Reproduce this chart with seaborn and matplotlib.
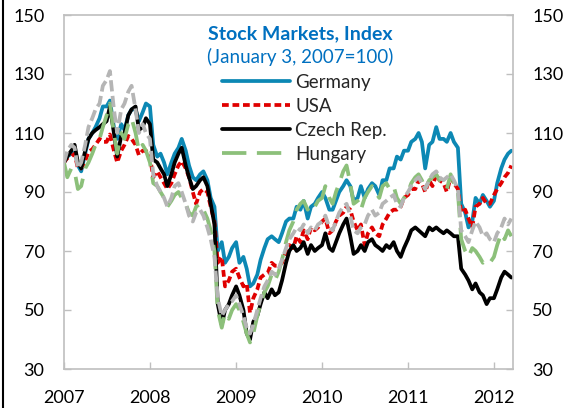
import numpy as np
import pandas as pd
import matplotlib
matplotlib.use("Agg")
import matplotlib.pyplot as plt
from matplotlib.lines import Line2D
import seaborn as sns

# --- data: semi-monthly readings, index Jan 3 2007 = 100 ---
dates = pd.date_range("2007-01-01", "2012-03-15", freq="SMS")

germany = [
    100, 102, 103, 104, 99, 97, 103, 108, 110, 112, 115, 119, 119, 121, 112, 108, 113, 111, 116, 118, 118, 114, 117, 120,
    119, 106, 102, 103, 100, 96, 100, 103, 105, 108, 104, 99, 95, 94, 96, 97, 94, 88, 85, 70, 73, 66, 68, 71,
    73, 66, 68, 64, 58, 59, 62, 67, 71, 74, 75, 74, 73, 76, 80, 81, 81, 85, 84, 87, 81, 85, 86, 88,
    90, 88, 84, 84, 87, 90, 92, 94, 92, 87, 88, 92, 88, 91, 93, 92, 89, 94, 94, 98, 98, 102, 101, 104,
    104, 107, 108, 110, 107, 98, 106, 107, 112, 108, 108, 107, 110, 107, 105, 86, 83, 78, 80, 88, 86, 89, 87, 85,
    87, 93, 98, 101, 103, 104]

usa = [
    100, 101.5, 102, 103, 98, 98, 100.5, 103.5, 104.5, 106, 108, 107, 107, 109.5, 104, 100, 104, 106, 109, 108, 106, 102.5, 104, 104,
    102, 95, 97, 95, 93, 91, 93, 96, 99, 100.5, 98, 95, 90, 86, 90, 91, 90, 85, 80, 66, 68, 58, 60, 63,
    64, 61, 58, 59, 49, 54, 57, 61, 62, 62.5, 66, 65, 65, 66, 70, 72, 71, 75, 73, 77, 74, 78, 77, 78,
    80, 81, 76, 77, 80, 82, 83, 85, 84, 80, 77, 79, 72, 76, 78, 76, 75, 79, 81, 83, 84, 84, 85, 88,
    89, 91, 91, 94, 93, 90, 94, 92, 96, 94, 93, 90, 95, 93, 91, 83, 84, 81, 78, 85, 86, 88, 86, 86,
    89, 91, 93, 95, 96.5, 99]

czech = [
    100, 102, 104, 106, 100, 98, 104, 108, 110, 111, 112, 113, 114, 119, 110, 102, 109, 110, 116, 118, 119, 111, 112, 115,
    113, 101, 100, 98, 96, 92, 96, 100, 103, 105, 99, 95, 91, 92, 94, 95, 92, 86, 79, 52, 45, 50, 52, 55,
    58, 55, 50, 42, 40, 46, 48, 52, 56, 54, 57, 55, 56, 60, 66, 70, 72, 70, 71, 73, 69, 72, 70, 71,
    72, 76, 71, 70, 73, 76, 79, 81, 75, 69, 70, 72, 70, 73, 74, 72, 71, 70, 72, 71, 73, 70, 68, 71,
    74, 77, 78, 77, 76, 75, 78, 77, 78, 77, 76, 77, 76, 75, 75, 64, 62, 60, 57, 59, 56, 55, 52, 54,
    54, 57, 61, 63, 62, 61]

hungary = [
    100, 95, 98, 97, 91, 92, 98, 100, 103, 106, 108, 112, 116, 120, 110, 103, 110, 108, 113, 115, 110, 104, 106, 104,
    100, 93, 92, 90, 88, 85, 87, 89, 90, 88, 86, 83, 82, 85, 86, 84, 81, 77, 70, 50, 44, 49, 47, 50,
    52, 50, 46, 42, 39, 42, 48, 52, 56, 58, 62, 60, 63, 67, 73, 77, 80, 84, 86, 87, 84, 86, 85, 87,
    88, 92, 88, 86, 90, 93, 97, 99, 93, 86, 87, 84, 88, 90, 92, 90, 88, 92, 93, 91, 92, 88, 86, 88,
    90, 93, 95, 96, 94, 91, 94, 95, 96, 94, 92, 91, 96, 93, 90, 74, 70, 68, 71, 70, 68, 66, 67, 66,
    68, 72, 76, 74, 77, 75]

# unlabeled grey series
other = [
    100, 104, 106, 105, 98, 100, 106, 112, 115, 118, 120, 126, 128, 131, 118, 110, 118, 120, 124, 126, 118, 110, 113, 110,
    108, 96, 92, 90, 88, 85, 88, 92, 93, 90, 86, 82, 80, 83, 84, 82, 78, 74, 68, 54, 48, 50, 52, 53,
    55, 52, 48, 44, 42, 45, 50, 54, 58, 60, 63, 62, 64, 67, 71, 74, 76, 78, 77, 79, 76, 78, 77, 79,
    80, 82, 78, 77, 80, 83, 85, 86, 82, 77, 76, 78, 79, 82, 84, 82, 83, 86, 87, 88, 89, 86, 85, 88,
    90, 92, 94, 95, 93, 91, 94, 96, 97, 95, 94, 95, 96, 94, 91, 77, 75, 73, 77, 80, 78, 75, 76, 74,
    73, 76, 78, 81, 79, 81]

y_ticks = [30, 50, 70, 90, 110, 130, 150]
years = [2007, 2008, 2009, 2010, 2011, 2012]

sns.set_style("white")
plt.rcParams["font.family"] = ["Lato", "DejaVu Sans"]

fig = plt.figure(figsize=(5.68, 4.08), dpi=100)
ax = fig.add_axes([64 / 568, 1 - 369 / 408, 449 / 568, 354 / 408])

lw = 2.7
sns.lineplot(x=dates, y=germany, ax=ax, color="#0C88B4", lw=lw, label="Germany")
sns.lineplot(x=dates, y=usa, ax=ax, color="#E00000", lw=lw, linestyle=(0, (1.8, 1.0)), label="USA")
sns.lineplot(x=dates, y=czech, ax=ax, color="black", lw=lw, label="Czech Rep.")
sns.lineplot(x=dates, y=hungary, ax=ax, color="#8CC07A", lw=lw, linestyle=(0, (6.5, 2.8)), label="Hungary")
sns.lineplot(x=dates, y=other, ax=ax, color="#B5B5B5", lw=lw, linestyle=(0, (3, 1.2)))

ax.set_xlim(pd.Timestamp("2007-01-01"), pd.Timestamp("2012-03-22"))
ax.set_ylim(30, 150)
ax.set_yticks(y_ticks)
ax.set_xticks([pd.Timestamp(f"{y}-01-01") for y in years])
ax.set_xticklabels([str(y) for y in years])
ax.set_xlabel("")
ax.set_ylabel("")

for sp in ax.spines.values():
    sp.set_color("#BFBFBF")
    sp.set_linewidth(1.2)
ax.tick_params(axis="both", direction="in", length=5, width=1, color="#BFBFBF",
               labelsize=13, labelcolor="black")
ax.tick_params(axis="y", left=True, right=True, labelleft=True, labelright=True, pad=14)
ax.tick_params(axis="x", bottom=True, pad=15)

fig.text(0.528, 1 - 34 / 408, "Stock Markets, Index", color="#0070C0",
         fontsize=14, fontweight="bold", ha="center", va="center")
fig.text(0.528, 1 - 57 / 408, "(January 3, 2007=100)", color="#0070C0",
         fontsize=13.5, ha="center", va="center")

leg = ax.legend(loc="upper left", bbox_to_anchor=(222 / 568, 1 - 74 / 408),
                bbox_transform=fig.transFigure, frameon=False, fontsize=13.5,
                handlelength=3.6, handletextpad=0.3, labelspacing=0.37,
                borderpad=0, borderaxespad=0)

fig.add_artist(Line2D([3 / 568, 3 / 568], [0, 1], color="black", lw=1.5,
                      transform=fig.transFigure))

fig.savefig("out.png", dpi=100)
